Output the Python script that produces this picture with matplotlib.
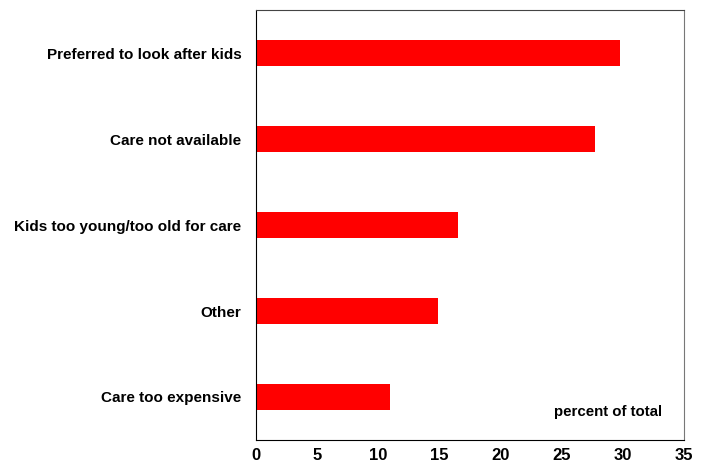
import matplotlib.pyplot as plt

plt.rcParams['font.family'] = ['Liberation Sans', 'DejaVu Sans']

# Data
reasons = ['Preferred to look after kids', 'Care not available',
           'Kids too young/too old for care', 'Other', 'Care too expensive']
percent = [29.8, 27.7, 16.5, 14.9, 11.0]

fig = plt.figure(figsize=(7.05, 4.66), dpi=100)
ax = fig.add_axes([0.363, 0.0558, 0.607, 0.9227])

ypos = list(range(len(reasons)))[::-1]
ax.barh(ypos, percent, height=0.3, color='#ff0000')

ax.set_xlim(0, 35)
ax.set_ylim(-0.5, len(reasons) - 0.5)
ax.set_xticks(range(0, 36, 5))
ax.set_yticks(ypos)
ax.set_yticklabels(reasons)
ax.tick_params(axis='x', length=0, pad=6, labelsize=12)
ax.tick_params(axis='y', length=0, pad=10.5, labelsize=11)
for lbl in ax.get_xticklabels() + ax.get_yticklabels():
    lbl.set_fontweight('bold')

ax.spines['left'].set_color('black')
ax.spines['bottom'].set_color('black')
ax.spines['top'].set_color('#444444')
ax.spines['right'].set_color('#777777')

ax.text(0.949, 0.065, 'percent of total', transform=ax.transAxes,
        ha='right', va='center', fontsize=10.8, fontweight='bold')

fig.savefig('out.png', dpi=100)
